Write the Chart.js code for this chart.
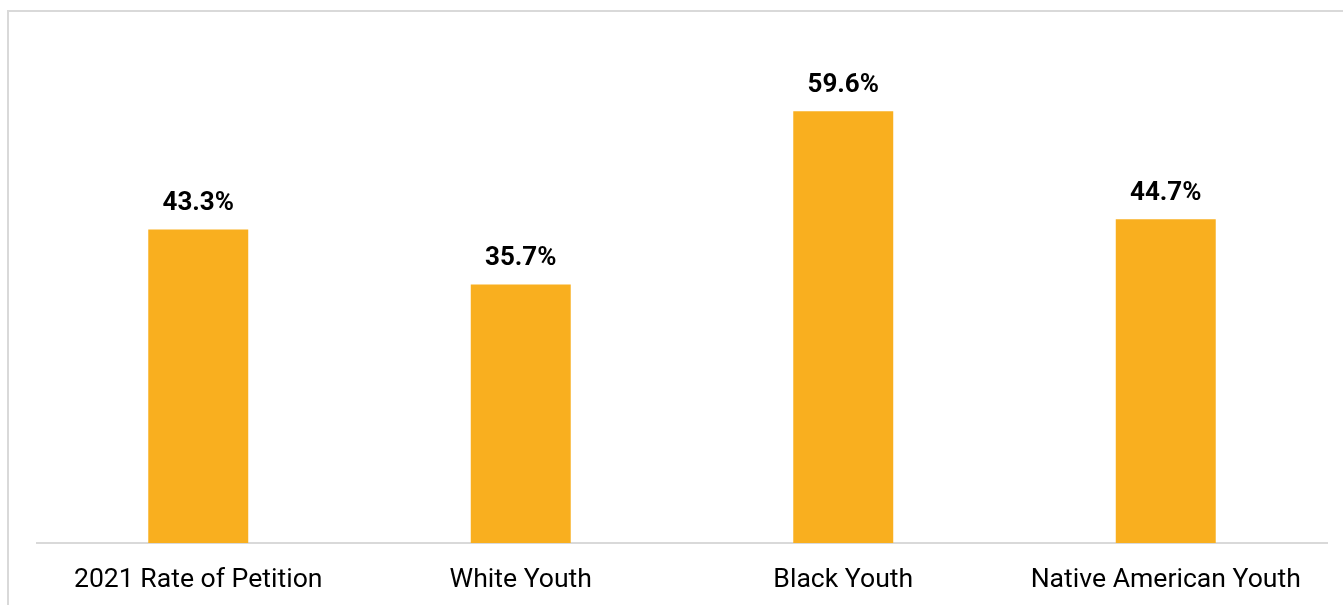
<!DOCTYPE html>
<html>
<head>
<meta charset="utf-8">
<script src="https://cdn.jsdelivr.net/npm/chart.js@4"></script>
<style>
  html, body { margin: 0; padding: 0; background: #fff; overflow: hidden; }
  #frame {
    position: absolute; left: 7px; top: 10px; width: 1400px; height: 700px;
    border-left: 2px solid #d9d9d9; border-top: 2px solid #d9d9d9;
  }
  #wrap { position: absolute; left: 0; top: 0; width: 1343px; height: 605px; }
</style>
</head>
<body>
<div id="frame"></div>
<div id="wrap"><canvas id="myChart"></canvas></div>
<script>
const labels = ["2021 Rate of Petition", "White Youth", "Black Youth", "Native American Youth"];
const data_val = [43.3, 35.7, 59.6, 44.7];

// draws the value labels above each bar
const valueLabels = {
  id: "valueLabels",
  afterDatasetsDraw(chart) {
    const ctx = chart.ctx;
    const meta = chart.getDatasetMeta(0);
    ctx.save();
    ctx.font = "bold 26px Roboto";
    ctx.fillStyle = "#000";
    ctx.textAlign = "center";
    ctx.textBaseline = "middle";
    meta.data.forEach(function (bar, i) {
      ctx.fillText(data_val[i].toFixed(1) + "%", bar.x, bar.y - 26);
    });
    ctx.restore();
  },
};

const config = {
  type: "bar",
  data: {
    labels: labels,
    datasets: [
      {
        data: data_val,
        backgroundColor: "#F9AF1F",
        categoryPercentage: 1,
        barPercentage: 0.31,
      },
    ],
  },
  options: {
    responsive: true,
    maintainAspectRatio: false,
    animation: false,
    layout: {
      padding: { left: 37, right: 16, top: 36, bottom: 0 },
    },
    plugins: {
      legend: { display: false },
      tooltip: { enabled: false },
    },
    scales: {
      x: {
        grid: { display: false, drawTicks: false },
        border: { color: "#d9d9d9", width: 2 },
        afterFit: function (scale) {
          scale.height = 62;
        },
        ticks: {
          color: "#000",
          padding: 21,
          maxRotation: 0,
          font: { family: "Roboto", size: 26.6 },
        },
      },
      y: {
        display: false,
        min: 0,
        max: 70,
      },
    },
  },
  plugins: [valueLabels],
};

const myChart = new Chart(document.getElementById("myChart"), config);
</script>
</body>
</html>
